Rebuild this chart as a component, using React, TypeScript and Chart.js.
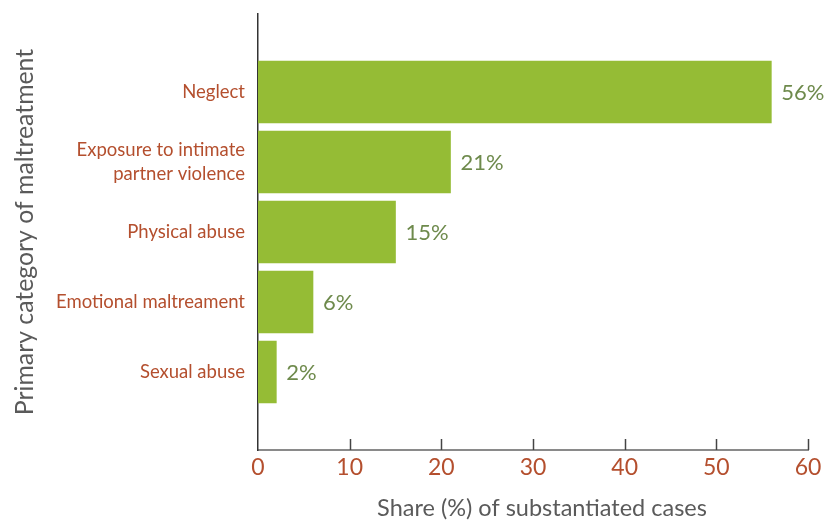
import React, { useEffect, useRef } from "react";
import { Chart, registerables } from "chart.js";

Chart.register(...registerables);

const categories: (string | string[])[] = [
  "Neglect",
  ["Exposure to intimate", "partner violence"],
  "Physical abuse",
  "Emotional maltreament",
  "Sexual abuse",
];
const values: number[] = [56, 21, 15, 6, 2];
const xTicks: number[] = [0, 10, 20, 30, 40, 50, 60];
const xTitle = "Share (%) of substantiated cases";
const yTitle = "Primary category of maltreatment";

const FONT = "Lato, 'Open Sans', sans-serif";
const RUST = "#b44f2e";
const LABEL_GREEN = "#6e8a4c";
const BAR_GREEN = "#95bc35";
const GREY = "#5a5a5a";

const dataLabels = {
  id: "dataLabels",
  afterDatasetsDraw(chart: any) {
    const ctx = chart.ctx;
    const meta = chart.getDatasetMeta(0);
    ctx.save();
    ctx.fillStyle = LABEL_GREEN;
    ctx.font = `22px ${FONT}`;
    ctx.textAlign = "left";
    ctx.textBaseline = "middle";
    meta.data.forEach((el: any, i: number) => {
      ctx.fillText(`${values[i]}%`, el.x + 10, el.y + 1);
    });
    ctx.restore();
  },
};

const innerTicks = {
  id: "innerTicks",
  afterDraw(chart: any) {
    const ctx = chart.ctx;
    const xs = chart.scales.x;
    const area = chart.chartArea;
    ctx.save();
    ctx.strokeStyle = "#444";
    ctx.lineWidth = 1.5;
    xs.ticks.forEach((t: any) => {
      if (t.value === 0) return;
      const px = Math.round(xs.getPixelForValue(t.value)) + 0.5;
      ctx.beginPath();
      ctx.moveTo(px, area.bottom);
      ctx.lineTo(px, area.bottom - 11);
      ctx.stroke();
    });
    // x-axis title, slightly right of the plot centre as in the original
    ctx.fillStyle = GREY;
    ctx.font = `23.5px ${FONT}`;
    ctx.textAlign = "center";
    ctx.textBaseline = "middle";
    ctx.fillText(xTitle, (area.left + area.right) / 2 + 9, xs.bottom - 13);
    ctx.restore();
  },
};

export default function App() {
  const ref = useRef<HTMLCanvasElement>(null);

  useEffect(() => {
    document.body.style.margin = "0";
    if (!ref.current) return;
    const yPad = 1.114;
    const chart = new Chart(ref.current, {
      type: "bar",
      data: {
        datasets: [
          {
            data: values.map((v, i) => ({ x: v, y: i })),
            backgroundColor: BAR_GREEN,
            barThickness: 62,
            borderWidth: 0,
          },
        ],
      },
      options: {
        indexAxis: "y",
        animation: false,
        responsive: true,
        maintainAspectRatio: false,
        layout: { padding: { top: 14, right: 17, left: 0, bottom: 0 } },
        plugins: {
          legend: { display: false },
          tooltip: { enabled: false },
        },
        scales: {
          x: {
            type: "linear",
            min: 0,
            max: 60,
            afterBuildTicks: (scale: any) => {
              scale.ticks = xTicks.map((v) => ({ value: v }));
            },
            afterFit: (scale: any) => {
              scale.height = 71;
              scale.paddingRight = 0;
              scale.paddingLeft = 0;
            },
            grid: { display: false, drawTicks: false },
            border: { display: true, color: "#8a8a8a", width: 2 },
            ticks: {
              color: RUST,
              font: { family: FONT, size: 23 },
              padding: 4,
              maxRotation: 0,
            },
            title: { display: false, text: xTitle },
          },
          y: {
            type: "linear",
            reverse: true,
            offset: false,
            min: -yPad,
            max: categories.length - 1 + yPad,
            afterBuildTicks: (scale: any) => {
              scale.ticks = categories.map((_, i) => ({ value: i }));
            },
            afterFit: (scale: any) => {
              scale.width = 258;
              scale.paddingTop = 0;
              scale.paddingBottom = 0;
            },
            grid: { display: false, drawTicks: false, offset: false },
            border: { display: true, color: "#333", width: 1.5 },
            ticks: {
              color: RUST,
              font: { family: FONT, size: 18.5, lineHeight: 1.3 },
              padding: 13,
              callback: (v: any) => categories[v as number] ?? "",
            },
            title: {
              display: true,
              text: yTitle,
              color: GREY,
              font: { family: FONT, size: 24.8 },
              padding: { top: 10, bottom: 0 },
            },
          },
        },
      },
      plugins: [dataLabels, innerTicks],
    });
    return () => chart.destroy();
  }, []);

  return (
    <div style={{ width: 825, height: 521, position: "relative" }}>
      <canvas ref={ref} />
    </div>
  );
}
